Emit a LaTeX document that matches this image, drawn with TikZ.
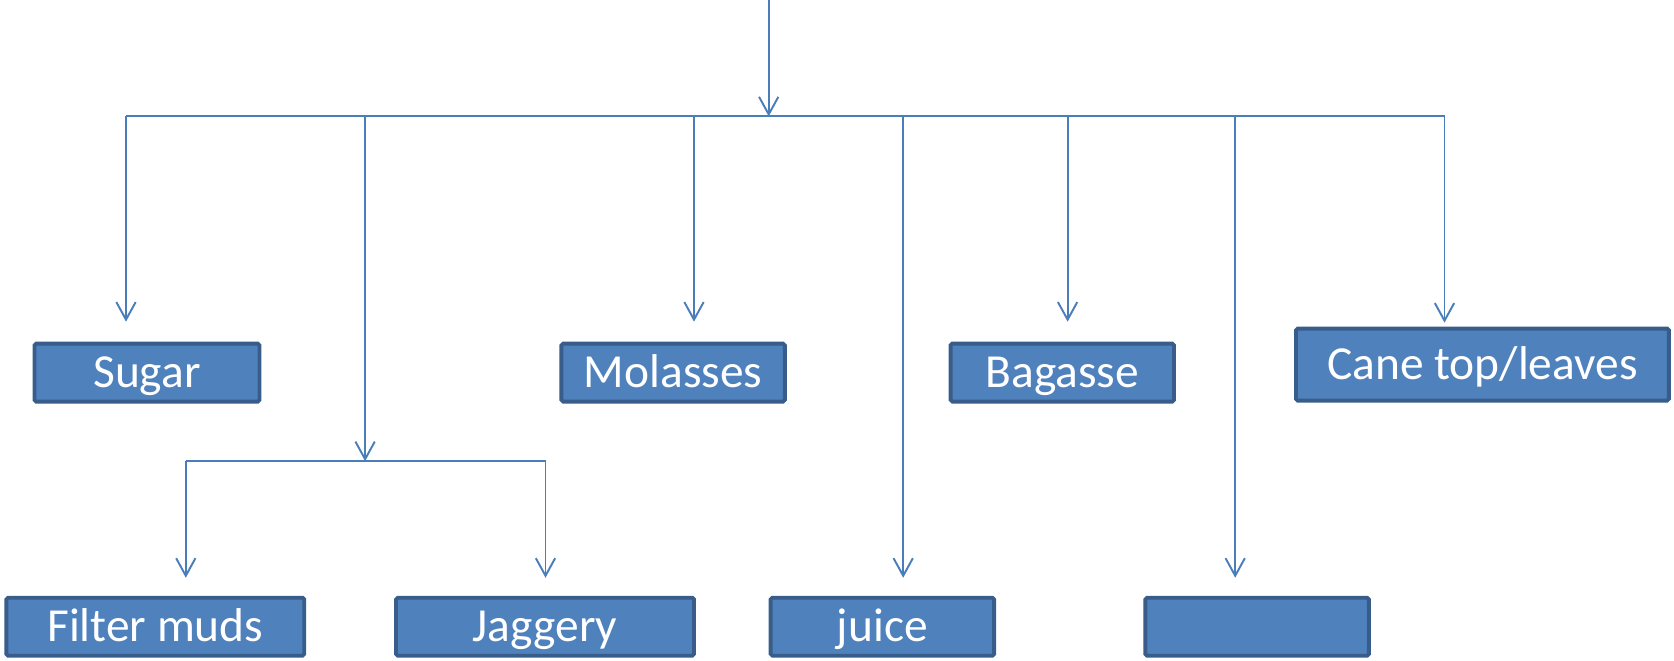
\documentclass[tikz,border=0pt]{standalone}
\usepackage{fontspec}
\setmainfont{Carlito}
\usetikzlibrary{arrows.meta}
\definecolor{boxblue}{HTML}{4F81BD}
\definecolor{boxedge}{HTML}{385D8A}
\definecolor{linkblue}{HTML}{4A7EBB}

\begin{document}
\begin{tikzpicture}
  [x=0.02cm,y=-0.02cm,
   box/.style={rectangle,rounded corners=1pt,draw=boxedge,line width=2.2pt,fill=boxblue,
     text=white,font=\fontsize{27}{31}\selectfont,inner sep=0pt,
     text height=17.4pt,text depth=0pt,minimum height=1.16cm},
   link/.style={draw=linkblue,line width=1.1pt},
   arr/.style={link,-{Straight Barb[length=10pt,width=11pt]}}]
  \useasboundingbox (0,0) rectangle (1674,661);

  % products
  \node[box,minimum width=4.5cm] (sugar) at (147,372.6) {Sugar};
  \node[box,minimum width=4.47cm] (molasses) at (673.1,372.6) {Molasses};
  \node[box,minimum width=4.47cm] (bagasse) at (1062.3,372.6) {Bagasse};
  \node[box,minimum width=7.46cm,minimum height=1.44cm] (cane) at (1482.4,364.6) {Cane top/leaves};
  \node[box,minimum width=5.96cm] (filter) at (155.3,626.7) {Filter muds};
  \node[box,minimum width=5.96cm] (jaggery) at (545,626.7) {Jaggery};
  \node[box,minimum width=4.47cm] (juice) at (882.4,626.7) {juice};
  \node[box,minimum width=4.47cm] (blank) at (1257.1,626.7) {};

  % main bus
  \coordinate (top) at (768.7,0);
  \coordinate (hub) at (768.7,116.4);
  \coordinate (s1) at (126,116.4);
  \coordinate (s2) at (365.1,116.4);
  \coordinate (s3) at (694,116.4);
  \coordinate (s4) at (903.2,116.4);
  \coordinate (s5) at (1067.6,116.4);
  \coordinate (s6) at (1235.2,116.4);
  \coordinate (s7) at (1444.5,116.4);
  % second bus
  \coordinate (hub2) at (365.1,461.2);
  \coordinate (t1) at (185.8,461.2);
  \coordinate (t2) at (545.5,461.2);

  \draw[arr] (top) -- (hub);
  \draw[link] (s1) -- (s7);
  \draw[arr] (s2) -- (hub2);
  \draw[link] (t1) -- (t2);

  \foreach \from/\to/\gap in {s1/sugar/20,s3/molasses/20,s5/bagasse/20,s7/cane/4,
      s4/juice/18,s6/blank/18,t1/filter/18,t2/jaggery/18}
    \draw[arr,shorten >=\gap*0.02cm] (\from) -- (\from |- \to.north);

\end{tikzpicture}
\end{document}
